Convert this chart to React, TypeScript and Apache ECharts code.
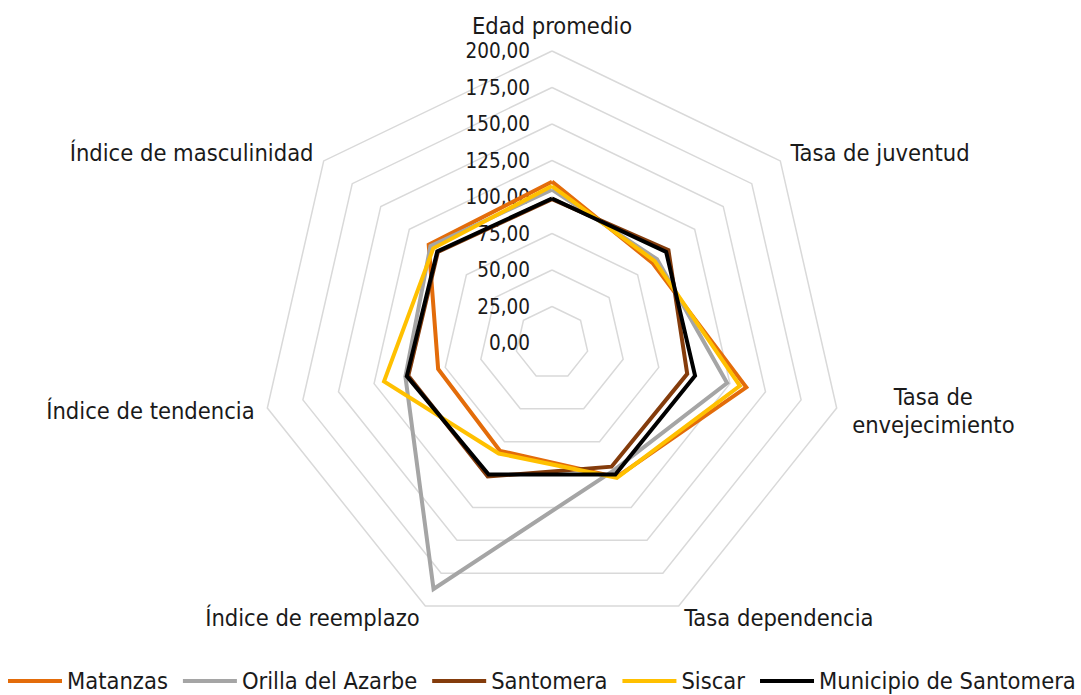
import React, { useEffect, useRef } from "react";
import * as echarts from "echarts";

const categories = [
  "Edad promedio",
  "Tasa de juventud",
  "Tasa de\nenvejecimiento",
  "Tasa dependencia",
  "Índice de reemplazo",
  "Índice de tendencia",
  "Índice de masculinidad",
];

const seriesNames = ["Matanzas", "Orilla del Azarbe", "Santomera", "Siscar", "Municipio de Santomera"];
const seriesColors = ["#E36C0A", "#A5A5A5", "#843C0C", "#FFC000", "#000000"];

const matanzas = [110.5, 88, 136.5, 102, 82, 80, 108];
const orillaDelAzarbe = [105, 92, 123, 97, 187, 103, 106.5];
const santomera = [98.5, 102, 95, 94, 101.5, 101, 100];
const siscar = [107.5, 90, 132, 102.5, 84, 118, 104];
const municipio = [99, 100, 100.5, 100, 100, 102, 100.5];

const axisMin = 0;
const axisMax = 200;
const axisSplits = 8;

const FONT = "'DejaVu Sans Condensed', 'DejaVu Sans', sans-serif";

// ECharts places radar indicators counter-clockwise; reorder so they run clockwise like the reference.
const order = [0, 6, 5, 4, 3, 2, 1];
const reorder = (arr: any[]) => order.map((i) => arr[i]);

export default function App() {
  const ref = useRef<HTMLDivElement>(null);
  useEffect(() => {
    if (!ref.current) return;
    const chart = echarts.init(ref.current, undefined, { renderer: "svg" });
    const allValues = [matanzas, orillaDelAzarbe, santomera, siscar, municipio];
    const labelStyle = {
      show: true,
      fontSize: 20.5,
      fontFamily: FONT,
      color: "#1a1a1a",
      margin: 22,
      formatter: (v: number) => Number(v).toFixed(2).replace(".", ","),
    };
    const indicators = reorder(categories).map((name: string, i: number) => ({
      name,
      min: axisMin,
      max: axisMax,
      axisLabel: i === 0 ? labelStyle : { show: false },
    }));
    chart.setOption({
      animation: false,
      backgroundColor: "#ffffff",
      legend: {
        data: seriesNames,
        left: 8,
        top: 669,
        width: 1073,
        padding: 0,
        icon: "rect",
        itemWidth: 54,
        itemHeight: 4,
        itemGap: 15,
        textStyle: { fontSize: 23.5, fontFamily: FONT, color: "#1a1a1a" },
      },
      radar: {
        center: [552, 343],
        radius: 292,
        startAngle: 90,
        shape: "polygon",
        splitNumber: axisSplits,
        indicator: indicators,
        nameGap: 13,
        axisName: {
          color: "#1a1a1a",
          fontSize: 23.5,
          fontFamily: FONT,
          formatter: (name: string) =>
            name.indexOf("\n") >= 0
              ? name
                  .split("\n")
                  .map((s) => "{c|" + s + "}")
                  .join("\n")
              : name,
          rich: {
            c: {
              width: 168,
              align: "center",
              fontSize: 23.5,
              fontFamily: FONT,
              color: "#1a1a1a",
              lineHeight: 28,
            },
          },
        },
        axisLine: { show: false },
        axisTick: { show: false },
        axisLabel: { show: false },
        splitArea: { show: false },
        splitLine: { lineStyle: { color: "#D9D9D9", width: 1.5 } },
      },
      series: seriesNames.map((name, i) => ({
        type: "radar",
        name,
        symbol: "none",
        color: seriesColors[i],
        lineStyle: { color: seriesColors[i], width: 4, join: "miter" },
        z: 2 + i,
        data: [{ name, value: reorder(allValues[i]) }],
      })),
    });
    return () => chart.dispose();
  }, []);
  return (
    <div
      ref={ref}
      style={{ position: "fixed", left: 0, top: 0, width: 1081, height: 695 }}
    />
  );
}
